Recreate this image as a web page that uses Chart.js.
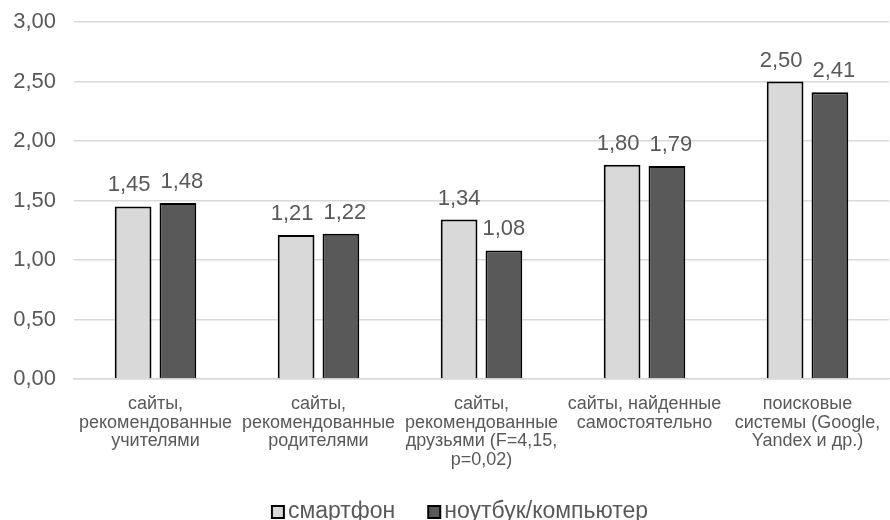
<!DOCTYPE html>
<html>
<head>
<meta charset="utf-8">
<script src="https://cdn.jsdelivr.net/npm/chart.js@4"></script>
<style>
  html, body { margin: 0; padding: 0; background: #fff; }
  #wrap { width: 890px; height: 520px; }
</style>
</head>
<body>
<div id="wrap"><canvas id="sources"></canvas></div>
<script>
const categories = [
    ['сайты,', 'рекомендованные', 'учителями'],
    ['сайты,', 'рекомендованные', 'родителями'],
    ['сайты,', 'рекомендованные', 'друзьями (F=4,15,', 'p=0,02)'],
    ['сайты, найденные', 'самостоятельно'],
    ['поисковые', 'системы (Google,', 'Yandex и др.)']
];
const smartphone = [1.45, 1.21, 1.34, 1.80, 2.50];
const laptop = [1.48, 1.22, 1.08, 1.79, 2.41];
const seriesNames = ['смартфон', 'ноутбук/компьютер'];

const fmt = v => v.toFixed(2).replace('.', ',');
const FONT = "'Liberation Sans', Arial, sans-serif";
const TEXT = '#595959';

// values written above each bar; neighbours at nearly the same height
// are nudged apart so the numbers don't run into each other
const barValues = {
    id: 'barValues',
    afterDatasetsDraw(chart) {
        const ctx = chart.ctx;
        const minGap = 10;
        ctx.save();
        ctx.font = '22px ' + FONT;
        ctx.fillStyle = TEXT;
        ctx.textAlign = 'center';
        ctx.textBaseline = 'alphabetic';
        const metaA = chart.getDatasetMeta(0).data;
        const metaB = chart.getDatasetMeta(1).data;
        const dsA = chart.data.datasets[0].data;
        const dsB = chart.data.datasets[1].data;
        metaA.forEach((barA, j) => {
            const barB = metaB[j];
            const tA = fmt(dsA[j]), tB = fmt(dsB[j]);
            const wA = ctx.measureText(tA).width, wB = ctx.measureText(tB).width;
            let shift = 0;
            const gap = (barB.x - barA.x) - (wA + wB) / 2;
            if (Math.abs(barA.y - barB.y) < 16 && gap < minGap) {
                shift = (minGap - gap) / 2;
            }
            ctx.fillText(tA, barA.x - shift, barA.y - 15);
            ctx.fillText(tB, barB.x + shift, barB.y - 15);
        });
        ctx.restore();
    }
};

// compact legend under the axis labels: small square right next to the text
const bottomLegend = {
    id: 'bottomLegend',
    afterDraw(chart) {
        const ctx = chart.ctx;
        const box = 12, gap = 4, spacing = 33, cy = 512, cx = 460;
        ctx.save();
        ctx.font = '23px ' + FONT;
        ctx.textBaseline = 'middle';
        ctx.textAlign = 'left';
        const items = chart.data.datasets.map(ds => ({
            ds, w: ctx.measureText(ds.label).width
        }));
        const total = items.reduce((s, it) => s + box + gap + it.w, 0) + spacing * (items.length - 1);
        let x = cx - total / 2;
        items.forEach(it => {
            ctx.fillStyle = it.ds.backgroundColor;
            ctx.strokeStyle = '#000';
            ctx.lineWidth = 2;
            ctx.fillRect(x, cy - box / 2, box, box);
            ctx.strokeRect(x, cy - box / 2, box, box);
            ctx.fillStyle = TEXT;
            ctx.fillText(it.ds.label, x + box + gap, cy);
            x += box + gap + it.w + spacing;
        });
        ctx.restore();
    }
};

new Chart(
    document.getElementById('sources'),
    {
    type: 'bar',
    data: {
        labels: categories,
        datasets: [
            {
                label: seriesNames[0],
                data: smartphone,
                backgroundColor: '#d9d9d9',
                borderColor: '#000',
                borderWidth: 2
            },
            {
                label: seriesNames[1],
                data: laptop,
                backgroundColor: '#595959',
                borderColor: '#000',
                borderWidth: 2
            }
        ]
    },
    options: {
        responsive: true,
        maintainAspectRatio: false,
        animation: false,
        categoryPercentage: 0.55,
        barPercentage: 0.82,
        layout: {
            padding: { top: 22, right: 1, left: 0, bottom: 0 }
        },
        scales: {
            x: {
                grid: { display: false },
                border: { color: '#d9d9d9', width: 1.5 },
                ticks: {
                    color: TEXT,
                    font: { family: FONT, size: 18, lineHeight: 1.03 },
                    maxRotation: 0,
                    autoSkip: false,
                    padding: 8
                },
                afterFit(scale) { scale.height = 141; }
            },
            y: {
                min: 0,
                max: 3,
                grid: { color: '#d9d9d9', lineWidth: 1.5, drawTicks: false },
                border: { display: false },
                ticks: {
                    stepSize: 0.5,
                    color: TEXT,
                    font: { family: FONT, size: 22 },
                    padding: 18,
                    callback: v => fmt(v)
                },
                afterFit(scale) {
                    scale.width = 74;
                    scale.paddingTop = 0;
                    scale.paddingBottom = 0;
                }
            }
        },
        plugins: {
            tooltip: { enabled: false },
            legend: { display: false }
        }
    },
    plugins: [barValues, bottomLegend]
});
</script>
</body>
</html>
